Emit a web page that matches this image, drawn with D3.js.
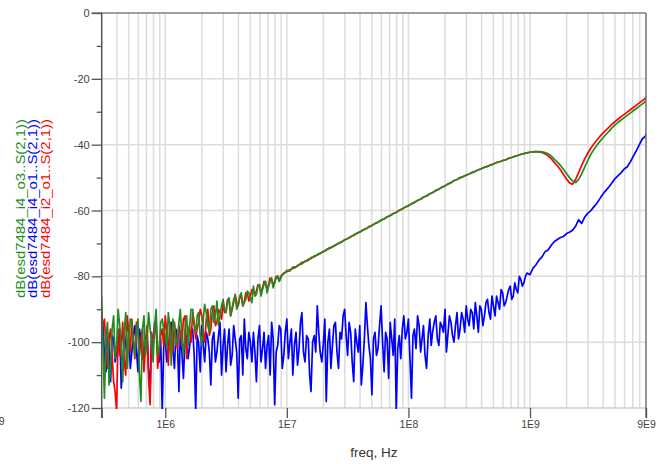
<!DOCTYPE html>
<html>
<head>
<meta charset="utf-8">
<script src="https://cdn.jsdelivr.net/npm/d3@7"></script>
<style>
	body { margin: 0; background: #fff; }
	svg { display: block; font-family: "Liberation Sans", Arial, sans-serif; }
</style>
</head>
<body>
<div id="chart"></div>
<script>
// Frequency sweep (Hz), shared by the three traces
const sweepHz = [
	2.99e5, 3.16e5, 3.35e5, 3.55e5, 3.76e5, 3.98e5, 4.22e5, 4.47e5, 4.73e5, 5.01e5,
	5.31e5, 5.62e5, 5.96e5, 6.31e5, 6.68e5, 7.08e5, 7.50e5, 7.94e5, 8.41e5, 8.91e5,
	9.44e5, 1.00e6, 1.06e6, 1.12e6, 1.19e6, 1.26e6, 1.33e6, 1.41e6, 1.50e6, 1.58e6,
	1.68e6, 1.78e6, 1.88e6, 2.00e6, 2.11e6, 2.24e6, 2.37e6, 2.51e6, 2.66e6, 2.82e6,
	2.99e6, 3.16e6, 3.35e6, 3.55e6, 3.76e6, 3.98e6, 4.22e6, 4.47e6, 4.73e6, 5.01e6,
	5.31e6, 5.62e6, 5.96e6, 6.31e6, 6.68e6, 7.08e6, 7.50e6, 7.94e6, 8.41e6, 8.91e6,
	9.44e6, 1.00e7, 1.06e7, 1.12e7, 1.19e7, 1.26e7, 1.33e7, 1.41e7, 1.50e7, 1.58e7,
	1.68e7, 1.78e7, 1.88e7, 2.00e7, 2.11e7, 2.24e7, 2.37e7, 2.51e7, 2.66e7, 2.82e7,
	2.99e7, 3.16e7, 3.35e7, 3.55e7, 3.76e7, 3.98e7, 4.22e7, 4.47e7, 4.73e7, 5.01e7,
	5.31e7, 5.62e7, 5.96e7, 6.31e7, 6.68e7, 7.08e7, 7.50e7, 7.94e7, 8.41e7, 8.91e7,
	9.44e7, 1.00e8, 1.06e8, 1.12e8, 1.19e8, 1.26e8, 1.33e8, 1.41e8, 1.50e8, 1.58e8,
	1.68e8, 1.78e8, 1.88e8, 2.00e8, 2.11e8, 2.24e8, 2.37e8, 2.51e8, 2.66e8, 2.82e8,
	2.99e8, 3.16e8, 3.35e8, 3.55e8, 3.76e8, 3.98e8, 4.22e8, 4.47e8, 4.73e8, 5.01e8,
	5.31e8, 5.62e8, 5.96e8, 6.31e8, 6.68e8, 7.08e8, 7.50e8, 7.94e8, 8.41e8, 8.91e8,
	9.44e8, 1.00e9, 1.06e9, 1.12e9, 1.19e9, 1.26e9, 1.33e9, 1.41e9, 1.50e9, 1.58e9,
	1.68e9, 1.78e9, 1.88e9, 2.00e9, 2.11e9, 2.24e9, 2.37e9, 2.51e9, 2.66e9, 2.82e9,
	2.99e9, 3.16e9, 3.35e9, 3.55e9, 3.76e9, 3.98e9, 4.22e9, 4.47e9, 4.73e9, 5.01e9,
	5.31e9, 5.62e9, 5.96e9, 6.31e9, 6.68e9, 7.08e9, 7.50e9, 7.94e9, 8.41e9, 8.91e9,
	9.00e9
];

// dB(esd7484_i4_o3..S(2,1))
const greenDb = [
	-86, -117, -94, -108, -92, -101, -95, -112, -91, -99,
	-94, -104, -93, -118, -92, -100, -96, -106, -90, -102,
	-93, -98, -91, -107, -95, -99, -90, -104, -92, -96,
	-90, -97, -91, -101, -88.5, -95, -90, -94, -87.5, -92,
	-87, -91, -86.5, -89.5, -86, -88.5, -85, -88, -84.5, -86.5,
	-83, -85.5, -82.5, -84, -81.5, -83, -80.5, -82, -79.8, -80.6,
	-79.3, -78.2, -78.4, -77.2, -77.0, -76.6, -75.7, -75.6, -74.8, -74.6,
	-73.8, -73.6, -72.9, -72.6, -71.8, -71.6, -71.1, -70.4, -70.1, -69.5,
	-69.0, -68.5, -68.1, -67.4, -67.0, -66.6, -66.0, -65.5, -65.1, -64.5,
	-64.0, -63.5, -63.0, -62.5, -62.0, -61.5, -61.0, -60.5, -60.0, -59.5,
	-59.0, -58.5, -58.0, -57.5, -57.0, -56.5, -56.0, -55.5, -55.0, -54.5,
	-54.0, -53.5, -53.0, -52.5, -52.0, -51.5, -51.0, -50.6, -50.1, -49.7,
	-49.3, -48.9, -48.5, -48.1, -47.7, -47.3, -46.9, -46.6, -46.2, -45.9,
	-45.5, -45.2, -44.9, -44.6, -44.2, -43.9, -43.6, -43.3, -43.0, -42.7,
	-42.5, -42.3, -42.2, -42.1, -42.1, -42.2, -42.4, -42.8, -43.5, -44.4,
	-45.3, -46.3, -47.5, -48.8, -50.0, -51.0, -51.5, -50.6, -48.9, -46.8,
	-44.8, -43.0, -41.5, -40.2, -39.0, -37.9, -36.9, -35.9, -34.9, -34.0,
	-33.2, -32.5, -31.8, -31.1, -30.4, -29.7, -29.0, -28.3, -27.6, -26.9,
	-26.3
];
// extra samples between sweep points i and i+1 (noisy low band)
const greenMidDb = [
	-101, -98, -113, -96, -105, -90, -103, -97, -108, -93,
	-100, -97, -110, -96, -104, -91, -99, -95, -104, -94,
	-96, -102, -95, -93, -101, -94, -99, -96, -101, -90,
	-95, -92, -98, -93, -91, -97, -89, -92, -95, -89,
	-90, -88, -92, -87, -90, -86, -89, -87, -85, -88,
	-86, -83, -86, -82.5, -85, -81.5, -83.5, -80.5, -81.5, -79.5
];

// dB(esd7484_i4_o1..S(2,1))
const blueDb = [
	-100, -104, -97, -112, -99, -103, -96, -107, -101, -98,
	-103, -95, -109, -99, -104, -97, -115, -101, -96, -106,
	-121, -99, -103, -94, -108, -100, -97, -111, -98, -102,
	-96, -121, -100, -95, -106, -99, -113, -97, -103, -94,
	-101, -109, -96, -104, -99, -117, -98, -93, -105, -100,
	-97, -112, -95, -102, -108, -98, -94, -119, -101, -96,
	-104, -93, -100, -110, -97, -102, -91, -106, -99, -115,
	-98, -89, -103, -100, -118, -96, -101, -94, -108, -99,
	-90, -104, -97, -112, -100, -95, -107, -88, -101, -116,
	-97, -102, -89, -109, -99, -94, -104, -121, -98, -96,
	-99, -93, -117, -96, -92, -103, -95, -108, -93, -97,
	-92, -101, -95, -90, -98, -94, -100, -91, -96, -93,
	-89, -95, -91, -88, -97, -90, -92, -87, -93, -89,
	-86, -90, -85, -88, -84, -87, -82, -85, -81, -82,
	-79, -79.5, -77.5, -76.5, -75, -74, -72.5, -72, -70.5, -69.5,
	-68.8, -68.2, -67.9, -67.0, -66.6, -66.0, -64.8, -62.8, -63.9, -62.0,
	-60.8, -60.1, -58.9, -57.8, -56.4, -55.0, -53.9, -52.8, -51.6, -50.3,
	-49.4, -48.5, -47.4, -46.7, -45.3, -43.5, -41.8, -40.0, -38.2, -37.4,
	-36.6
];
const blueMidDb = [
	-95, -109, -101, -98, -106, -100, -114, -97, -104, -108,
	-98, -102, -96, -105, -100, -108, -98, -94, -103, -99,
	-101, -106, -97, -102, -96, -115, -103, -99, -105, -97,
	-104, -98, -109, -101, -97, -103, -99, -106, -98, -110,
	-96, -101, -107, -95, -103, -99, -110, -102, -97, -106,
	-103, -99, -106, -97, -101, -110, -99, -103, -95, -108,
	-97, -105, -96, -101, -107, -94, -103, -98, -110, -100,
	-103, -97, -106, -93, -100, -108, -95, -103, -97, -92,
	-98, -94, -106, -96, -103, -113, -99, -95, -105, -99,
	-104, -95, -100, -97, -111, -99, -93, -102, -105, -92,
	-97, -105, -98, -102, -95, -99, -104, -98, -101, -94,
	-99, -94, -97, -103, -92, -98, -95, -99, -91, -97,
	-93, -90, -96, -92, -89, -95, -88, -91, -86, -92,
	-88, -84, -89, -86, -83, -86, -84, -80, -83, -80
];

// dB(esd7484_i2_o1..S(2,1))
const redDb = [
	-98, -93, -108, -96, -112, -121, -104, -94, -110, -97,
	-93, -105, -97, -99, -109, -95, -119, -100, -94, -103,
	-96, -92, -107, -98, -94, -102, -97, -93, -105, -95,
	-91, -99, -94, -92, -100, -90, -96, -89, -94, -91,
	-88, -90.5, -87, -90, -85.5, -89, -86, -87.5, -85, -86,
	-84, -84.5, -83, -83.5, -82, -82.5, -81, -81.5, -80.2, -80.0,
	-79.0, -78.6, -78.0, -77.6, -77.2, -76.4, -76.2, -75.4, -75.2, -74.3,
	-74.1, -73.4, -73.1, -72.4, -72.1, -71.3, -71.0, -70.6, -69.9, -69.6,
	-68.9, -68.6, -67.9, -67.6, -66.9, -66.5, -65.9, -65.6, -64.9, -64.6,
	-63.9, -63.6, -62.9, -62.6, -61.9, -61.6, -60.9, -60.6, -59.9, -59.6,
	-58.9, -58.6, -57.9, -57.6, -56.9, -56.6, -55.9, -55.6, -54.9, -54.6,
	-53.9, -53.6, -52.9, -52.6, -51.9, -51.6, -50.9, -50.6, -50.0, -49.7,
	-49.2, -48.9, -48.4, -48.1, -47.6, -47.3, -46.8, -46.6, -46.1, -45.9,
	-45.4, -45.2, -44.8, -44.6, -44.1, -43.9, -43.5, -43.3, -42.9, -42.7,
	-42.5, -42.3, -42.2, -42.1, -42.2, -42.4, -42.8, -43.4, -44.3, -45.4,
	-46.4, -47.6, -49.0, -50.4, -51.6, -52.0, -50.6, -48.5, -46.3, -44.3,
	-42.6, -41.1, -39.8, -38.6, -37.5, -36.5, -35.6, -34.7, -33.8, -33.0,
	-32.2, -31.5, -30.8, -30.1, -29.4, -28.7, -28.0, -27.3, -26.6, -25.9,
	-25.3
];
const redMidDb = [
	-95, -102, -99, -104, -115, -96, -101, -106, -92, -103,
	-99, -94, -104, -96, -101, -111, -97, -96, -108, -98,
	-101, -97, -94, -103, -99, -95, -101, -92, -98, -100,
	-94, -96, -90, -97, -93, -98, -91, -95, -90, -93,
	-91, -87, -92, -88, -88, -86.5, -89, -85, -87.5, -84,
	-85.5, -82.5, -85, -81.5, -84, -80.5, -83, -80, -81.5, -79.5
];

const legendLabels = [
	"dB(esd7484_i4_o3..S(2,1))",
	"dB(esd7484_i4_o1..S(2,1))",
	"dB(esd7484_i2_o1..S(2,1))"
];
const xTickValues = [3e5, 1e6, 1e7, 1e8, 1e9, 9e9];
const xTickLabels = ["", "1E6", "1E7", "1E8", "1E9", "9E9"];
const yMajorTicks = [0, -20, -40, -60, -80, -100, -120];
const yMinorTicks = [-10, -30, -50, -70, -90, -110];

/**
 * Merges the sweep samples with the extra in-between samples of a trace
 * @param {number[]} values 
 * @param {number[]} mids 
 */
function tracePoints(values, mids) {
	const pts = [];
	sweepHz.forEach((f, i) => {
		if (values[i] === undefined) return;
		pts.push([f, values[i]]);
		if (mids[i] !== undefined && i + 1 < sweepHz.length) {
			pts.push([Math.sqrt(f * sweepHz[i + 1]), mids[i]]);
		}
	});
	return pts;
}

(function (d3) {
	"use strict";

	const W = 661, H = 464;
	const margin = { top: 13, right: 15, bottom: 56, left: 101.7 };
	const width = W - margin.left - margin.right;
	const height = H - margin.top - margin.bottom;

	const svg = d3.select("#chart").append("svg")
		.attr("width", W)
		.attr("height", H);

	const g = svg.append("g")
		.attr("transform", "translate(" + margin.left + "," + margin.top + ")");

	const x = d3.scaleLog().domain([3e5, 9e9]).range([0, width]);
	const y = d3.scaleLinear().domain([-120, 0]).range([height, 0]);

	// grid: every 1..9 x decade inside the domain
	const gridFreqs = [];
	for (let k = 5; k <= 9; k++) {
		for (let m = 1; m <= 9; m++) {
			const f = m * Math.pow(10, k);
			if (f > 3e5 && f < 9e9) gridFreqs.push(f);
		}
	}
	g.append("g").selectAll("line")
		.data(gridFreqs)
		.join("line")
		.attr("x1", d => x(d)).attr("x2", d => x(d))
		.attr("y1", 0).attr("y2", height)
		.attr("stroke", "#dcdcdc")
		.attr("stroke-width", 1.5);

	g.append("g").selectAll("line")
		.data(yMajorTicks.filter(d => d !== 0))
		.join("line")
		.attr("x1", 0).attr("x2", width)
		.attr("y1", d => y(d)).attr("y2", d => y(d))
		.attr("stroke", d => d === -120 ? "#cfcfcf" : "#dcdcdc")
		.attr("stroke-width", 1.5);

	// traces
	const clipId = "plot-clip";
	g.append("clipPath").attr("id", clipId)
		.append("rect").attr("width", width).attr("height", height + 1);

	const series = [
		{ values: blueDb, mids: blueMidDb, color: "#0000ff" },
		{ values: redDb, mids: redMidDb, color: "#ff0000" },
		{ values: greenDb, mids: greenMidDb, color: "#228b22" }
	];
	const line = d3.line()
		.x(d => x(d[0]))
		.y(d => y(d[1]));

	g.append("g")
		.attr("clip-path", "url(#" + clipId + ")")
		.selectAll("path")
		.data(series)
		.join("path")
		.attr("d", s => line(tracePoints(s.values, s.mids)))
		.attr("fill", "none")
		.attr("stroke", s => s.color)
		.attr("stroke-width", 1.7)
		.attr("stroke-linejoin", "round");

	// borders
	g.append("line")
		.attr("x1", -10).attr("x2", width)
		.attr("y1", 0).attr("y2", 0)
		.attr("stroke", "#808080").attr("stroke-width", 1.5);
	g.append("line")
		.attr("x1", width).attr("x2", width)
		.attr("y1", 0).attr("y2", height + 10)
		.attr("stroke", "#707070").attr("stroke-width", 1.5);

	// y axis
	const yAxis = d3.axisLeft(y)
		.tickValues(yMajorTicks)
		.tickSize(10)
		.tickPadding(2)
		.tickFormat(d => d);
	const yAxisG = g.append("g").call(yAxis);
	yAxisG.select(".domain").remove();
	yAxisG.selectAll("line").attr("stroke", "#555").attr("stroke-width", 1.3);
	yAxisG.selectAll("text")
		.attr("fill", "#444")
		.style("font-size", "11px")
		.style("font-family", "'Liberation Sans', Arial, sans-serif");

	const yMinor = g.append("g").call(
		d3.axisLeft(y).tickValues(yMinorTicks).tickSize(5).tickFormat("")
	);
	yMinor.select(".domain").remove();
	yMinor.selectAll("line").attr("stroke", "#555").attr("stroke-width", 1.3);

	g.append("line")
		.attr("x1", 0).attr("x2", 0)
		.attr("y1", 0).attr("y2", height + 10)
		.attr("stroke", "#555").attr("stroke-width", 1.5);

	// x axis
	const xAxis = d3.axisBottom(x)
		.tickValues(xTickValues)
		.tickSize(10)
		.tickPadding(3)
		.tickFormat((d, i) => xTickLabels[i]);
	const xAxisG = g.append("g")
		.attr("transform", "translate(0," + height + ")")
		.call(xAxis);
	xAxisG.select(".domain").remove();
	xAxisG.selectAll("line").attr("stroke", "#555").attr("stroke-width", 1.3);
	xAxisG.selectAll("text")
		.attr("fill", "#444")
		.style("font-size", "10.5px")
		.style("font-family", "'Liberation Sans', Arial, sans-serif");

	// cut-off label at far left
	svg.append("text")
		.attr("x", 4.5).attr("y", 425)
		.attr("text-anchor", "end")
		.attr("fill", "#444")
		.style("font-size", "10.5px")
		.text("9");

	svg.append("text")
		.attr("x", margin.left + width / 2)
		.attr("y", 457)
		.attr("text-anchor", "middle")
		.attr("fill", "#333")
		.style("font-size", "13.5px")
		.text("freq, Hz");

	// rotated legend
	const legendColors = ["#228b22", "#0000ff", "#ff0000"];
	const legendX = [24.5, 37, 49.5];
	svg.append("g").selectAll("text")
		.data(legendLabels)
		.join("text")
		.attr("transform", (d, i) => "translate(" + legendX[i] + ",298) rotate(-90)")
		.attr("fill", (d, i) => legendColors[i])
		.attr("textLength", 179)
		.attr("lengthAdjust", "spacingAndGlyphs")
		.style("font-size", "12.5px")
		.text(d => d);

})(d3);
</script>
</body>
</html>
